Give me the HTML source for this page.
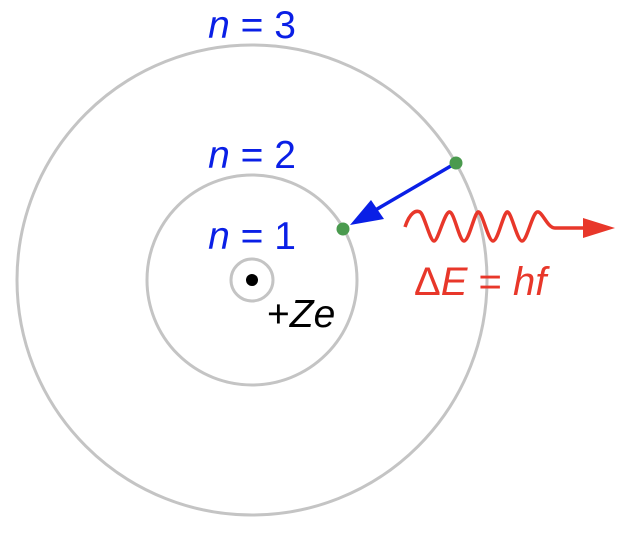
<!DOCTYPE html>
<html><head><style>body{margin:0;background:#fff}svg{display:block}</style></head><body>
<svg width="620" height="540" viewBox="0 0 620 540" xmlns="http://www.w3.org/2000/svg">
<g fill="none" stroke="#c4c4c4" stroke-width="3">
<circle cx="252" cy="280" r="235"/>
<circle cx="252" cy="280" r="105"/>
<circle cx="252" cy="280" r="21"/>
</g>
<circle cx="252" cy="280" r="6" fill="#000"/>
<g font-family="Liberation Sans, sans-serif" font-size="39" fill="#0a1fe6" text-anchor="middle">
<text x="252" y="38"><tspan font-style="italic">n</tspan> = 3</text>
<text x="252" y="168"><tspan font-style="italic">n</tspan> = 2</text>
<text x="252" y="249"><tspan font-style="italic">n</tspan> = 1</text>
</g>
<text x="267" y="327" font-family="Liberation Sans, sans-serif" font-size="39" fill="#000">+<tspan font-style="italic">Ze</tspan></text>
<text x="414" y="295" font-family="Liberation Sans, sans-serif" font-size="40" fill="#e8372a">Δ<tspan font-style="italic">E</tspan> = <tspan font-style="italic">hf</tspan></text>
<line x1="456" y1="163" x2="372" y2="212" stroke="#0a1fe6" stroke-width="3.5"/>
<polygon points="350,225 371,200 384,219" fill="#0a1fe6"/>
<path fill="none" stroke="#e8372a" stroke-width="3.5" d="M405,227 C410,212 416,210 420,212 S430,241 434,241 S444,214 449,212 S459,241 464,241 S474,214 478,212 S488,241 493,241 S503,214 507,212 S517,241 522,241 S532,214 537,212 S547,228 555,228 L586,228"/>
<polygon points="583,218 615,228 583,238" fill="#e8372a"/>
<circle cx="456" cy="163" r="6.5" fill="#4a9a4e"/>
<circle cx="343" cy="229" r="6.5" fill="#4a9a4e"/>
</svg>
</body></html>
